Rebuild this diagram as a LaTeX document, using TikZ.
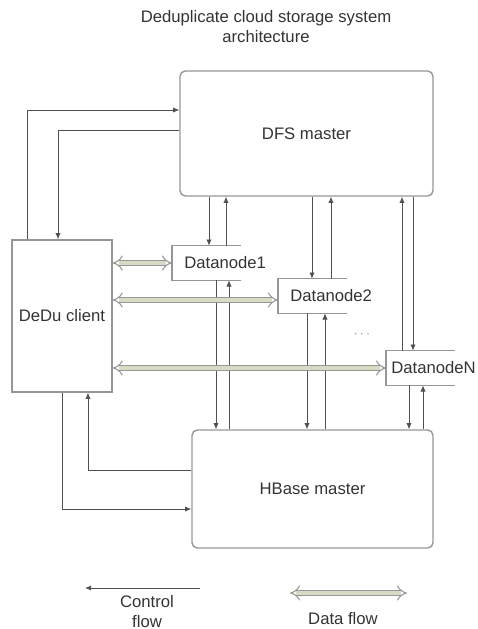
\documentclass[tikz,border=0pt]{standalone}
\usepackage{fontspec}
\setmainfont{Liberation Sans}
\usetikzlibrary{arrows.meta}
\definecolor{dataFill}{RGB}{216,219,196}
\definecolor{lineGray}{RGB}{80,80,80}
\definecolor{boxGray}{RGB}{150,150,150}
\tikzset{
	every node/.style={font=\fontsize{9.5}{11.4}\selectfont, text=black!80},
	master/.style={draw=boxGray, line width=0.8pt, rounded corners=3pt},
	client/.style={draw=boxGray, line width=0.8pt},
	dnode/.style={text width=0.88cm, inner xsep=0.24cm, minimum height=0.68cm, align=left, anchor=west},
	dnedge/.style={draw=boxGray, line width=0.8pt},
	ctl/.style={draw=lineGray, line width=0.5pt, -{Latex[length=3.5pt,width=3pt]}},
	data/.style={draw=boxGray, line width=0.6pt, double=dataFill, double distance=2.4pt, {Implies}-{Implies}}
}

\begin{document}
\begin{tikzpicture}[x=0.02cm, y=-0.02cm]
	\useasboundingbox (0,0) rectangle (477,629);

	% title
	\node[align=center] (title) at (266,27) {Deduplicate cloud storage system\\architecture};

	% main boxes
	\node[master, minimum width=5.06cm, minimum height=2.5cm] (dfs) at (306.5,133.5) {DFS master};
	\node[master, minimum width=4.82cm, minimum height=2.36cm] (hbase) at (312.5,489) {HBase master};
	\node[client, minimum width=2cm, minimum height=3.04cm] (client) at (62,316) {DeDu client};

	% datanodes
	\node[dnode] (dn1) at (172,263) {Datanode1};
	\node[dnode] (dn2) at (278,296) {Datanode2};
	\node[dnode, inner xsep=0.1cm, text width=1.16cm] (dnN) at (386,368) {DatanodeN};
	\draw[dnedge] (dn1.north east) -- (dn1.north west) -- (dn1.south west) -- (dn1.south east);
	\draw[dnedge] (dn2.north east) -- (dn2.north west) -- (dn2.south west) -- (dn2.south east);
	\draw[dnedge] (dnN.north east) -- (dnN.north west) -- (dnN.south west) -- (dnN.south east);
	\node[font=\fontsize{5}{6}\selectfont] (dots) at (362,334) {$\cdots$};

	% client <-> masters
	\draw[ctl] (client.north -| 27,0) |- (dfs.west |- 0,110);
	\draw[ctl] (dfs.west |- 0,130) -| (client.north -| 58,0);
	\draw[ctl] (client.south -| 62,0) |- (hbase.west |- 0,509);
	\draw[ctl] (hbase.west |- 0,470) -| (client.south -| 88,0);

	% dfs <-> datanodes
	\draw[ctl] (dfs.south -| 209,0) -- (dn1.north -| 209,0);
	\draw[ctl] (dn1.north -| 226,0) -- (dfs.south -| 226,0);
	\draw[ctl] (dfs.south -| 312,0) -- (dn2.north -| 312,0);
	\draw[ctl] (dn2.north -| 331,0) -- (dfs.south -| 331,0);
	\draw[ctl] (dnN.north -| 402,0) -- (dfs.south -| 402,0);
	\draw[ctl] (dfs.south -| 413,0) -- (dnN.north -| 413,0);

	% datanodes <-> hbase
	\draw[ctl] (dn1.south -| 216,0) -- (hbase.north -| 216,0);
	\draw[ctl] (hbase.north -| 229,0) -- (dn1.south -| 229,0);
	\draw[ctl] (dn2.south -| 307,0) -- (hbase.north -| 307,0);
	\draw[ctl] (hbase.north -| 325,0) -- (dn2.south -| 325,0);
	\draw[ctl] (dnN.south -| 409,0) -- (hbase.north -| 409,0);
	\draw[ctl] (hbase.north -| 423,0) -- (dnN.south -| 423,0);

	% data flow
	\draw[data] (client.east |- dn1.west) -- (dn1.west);
	\draw[data] (client.east |- 0,300) -- (dn2.west |- 0,300);
	\draw[data] (client.east |- dnN.west) -- (dnN.west);

	% legend
	\coordinate (ctlA) at (200,588);
	\coordinate (ctlB) at (85,588);
	\draw[ctl] (ctlA) -- (ctlB);
	\node[align=center] (ctltxt) at (147,612) {Control\\flow};
	\coordinate (dataA) at (290,593);
	\coordinate (dataB) at (407,593);
	\draw[data] (dataA) -- (dataB);
	\node (datatxt) at (343,619) {Data flow};
\end{tikzpicture}
\end{document}
